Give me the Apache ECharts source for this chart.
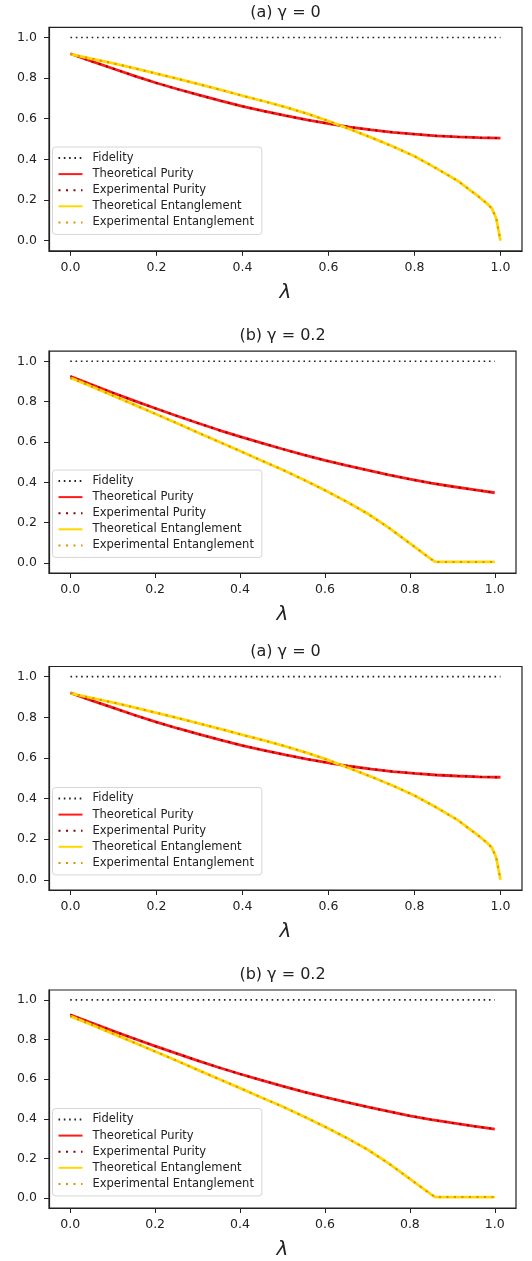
<!DOCTYPE html>
<html>
<head>
<meta charset="utf-8">
<script src="https://cdn.jsdelivr.net/npm/echarts@6/dist/echarts.min.js"></script>
<style>
  html,body{margin:0;padding:0;background:#fff;}
  #chart{width:532px;height:1261px;}
</style>
</head>
<body>
<div id="chart"></div>
<script>
// lambda grid shared by fidelity / purity curves
var lam = [0,0.05,0.1,0.15,0.2,0.25,0.3,0.35,0.4,0.45,0.5,0.55,0.6,0.65,0.7,0.75,0.8,0.85,0.9,0.95,1.0];
var fidelity = [1,1,1,1,1,1,1,1,1,1,1,1,1,1,1,1,1,1,1,1,1];

// (a) gamma = 0
var purityA = [0.920,0.882,0.846,0.810,0.776,0.745,0.716,0.688,0.661,0.637,0.615,0.594,0.576,0.559,0.545,0.533,0.524,0.516,0.511,0.507,0.505];
var lamEntA = [0,0.05,0.1,0.15,0.2,0.25,0.3,0.35,0.4,0.45,0.5,0.55,0.6,0.65,0.7,0.75,0.8,0.85,0.9,0.95,0.97,0.98,0.99,1.0];
var entA = [0.918,0.895,0.872,0.848,0.822,0.796,0.769,0.742,0.713,0.686,0.657,0.625,0.589,0.548,0.507,0.463,0.415,0.357,0.295,0.215,0.180,0.158,0.110,0.0];

// (b) gamma = 0.2
var purityB = [0.925,0.884,0.844,0.805,0.767,0.730,0.694,0.659,0.626,0.595,0.565,0.536,0.509,0.484,0.460,0.437,0.415,0.396,0.379,0.363,0.348];
var lamEntB = [0,0.05,0.1,0.15,0.2,0.25,0.3,0.35,0.4,0.45,0.5,0.55,0.6,0.65,0.7,0.75,0.8,0.85,0.86,0.9,0.95,1.0];
var entB = [0.918,0.875,0.830,0.785,0.740,0.694,0.647,0.601,0.555,0.508,0.462,0.412,0.360,0.305,0.245,0.175,0.097,0.019,0.005,0.005,0.005,0.005];

// experimental points sit on the theory curves
var expPurityA = purityA.slice(), expEntA = entA.slice();
var expPurityB = purityB.slice(), expEntB = entB.slice();

var ticks = [0,0.2,0.4,0.6,0.8,1.0];
var names = ['Fidelity','Theoretical Purity','Experimental Purity','Theoretical Entanglement','Experimental Entanglement'];

var panels = [
    {title:'(a) γ = 0',   left:49, top:27.3,  width:473, height:223.5, titleTop:5,     legendTop:147,
     pur:purityA, expPur:expPurityA, entLam:lamEntA, ent:entA, expEnt:expEntA},
    {title:'(b) γ = 0.2', left:49, top:351.2, width:467, height:221.8, titleTop:328,   legendTop:470,
     pur:purityB, expPur:expPurityB, entLam:lamEntB, ent:entB, expEnt:expEntB},
    {title:'(a) γ = 0',   left:49, top:666.5, width:473, height:223.5, titleTop:644,   legendTop:787.5,
     pur:purityA, expPur:expPurityA, entLam:lamEntA, ent:entA, expEnt:expEntA},
    {title:'(b) γ = 0.2', left:49, top:990,   width:467, height:221.5, titleTop:966.5, legendTop:1108.5,
     pur:purityB, expPur:expPurityB, entLam:lamEntB, ent:entB, expEnt:expEntB}
];

function pairs(xs, ys){
    return xs.map(function(x, i){ return [x, ys[i]]; });
}

var font = 'DejaVu Sans';
var dark = '#222';
var option = {
    animation:false,
    backgroundColor:'#fff',
    title:[], grid:[], xAxis:[], yAxis:[], legend:[], series:[]
};

panels.forEach(function(p, i){
    option.title.push({
        text:p.title, left:p.left + p.width/2, top:p.titleTop, textAlign:'center', padding:0,
        textStyle:{fontFamily:font, fontSize:16, fontWeight:'normal', color:dark}
    });
    option.grid.push({
        left:p.left, top:p.top, width:p.width, height:p.height,
        show:true, borderColor:dark, borderWidth:1.2, backgroundColor:'#fff'
    });
    option.xAxis.push({
        type:'value', gridIndex:i, min:-0.05, max:1.05,
        name:'λ', nameLocation:'middle', nameGap:32,
        nameTextStyle:{fontFamily:font, fontSize:20, fontStyle:'italic', color:dark},
        axisLine:{show:true, onZero:false, lineStyle:{color:dark, width:1.2}},
        axisTick:{show:true, inside:false, length:5, customValues:ticks, lineStyle:{color:dark}},
        axisLabel:{customValues:ticks, margin:10, fontFamily:font, fontSize:12.5, color:dark,
            formatter:function(v){ return v.toFixed(1); }},
        splitLine:{show:false}
    });
    option.yAxis.push({
        type:'value', gridIndex:i, min:-0.05, max:1.05,
        axisLine:{show:true, onZero:false, lineStyle:{color:dark, width:1.2}},
        axisTick:{show:true, inside:false, length:5, customValues:ticks, lineStyle:{color:dark}},
        axisLabel:{customValues:ticks, margin:12, fontFamily:font, fontSize:12.5, color:dark,
            formatter:function(v){ return v.toFixed(1); }},
        splitLine:{show:false}
    });
    option.legend.push({
        data:names, orient:'vertical', left:52.5, top:p.legendTop,
        itemWidth:24, itemHeight:14, itemGap:4.1, padding:[5,8,6,5],
        backgroundColor:'rgba(255,255,255,0.85)', borderColor:'#d6d6d6', borderWidth:1, borderRadius:3,
        itemStyle:{opacity:0},
        textStyle:{fontFamily:font, fontSize:11.5, color:dark, padding:[0,0,0,5]},
        selectedMode:false
    });
    var base = {type:'line', xAxisIndex:i, yAxisIndex:i, symbol:'none', silent:true};
    option.series.push(
        Object.assign({}, base, {name:names[0], data:pairs(lam, fidelity),
            itemStyle:{color:'#222', opacity:0}, lineStyle:{color:'#222', width:1.6, type:[1.6,3.7]}}),
        Object.assign({}, base, {name:names[1], data:pairs(lam, p.pur),
            itemStyle:{color:'#ff1a1a', opacity:0}, lineStyle:{color:'#ff1a1a', width:2.8}}),
        Object.assign({}, base, {name:names[2], data:pairs(lam, p.expPur),
            itemStyle:{color:'#8b0000', opacity:0}, lineStyle:{color:'#8b0000', width:2, type:[2,5.5]}}),
        Object.assign({}, base, {name:names[3], data:pairs(p.entLam, p.ent),
            itemStyle:{color:'#ffd700', opacity:0}, lineStyle:{color:'#ffd700', width:2.8}}),
        Object.assign({}, base, {name:names[4], data:pairs(p.entLam, p.expEnt),
            itemStyle:{color:'#e09000', opacity:0}, lineStyle:{color:'#e09000', width:2, type:[2,5.5]}})
    );
});

var mychart = echarts.init(document.getElementById('chart'));
mychart.setOption(option);
</script>
</body>
</html>
